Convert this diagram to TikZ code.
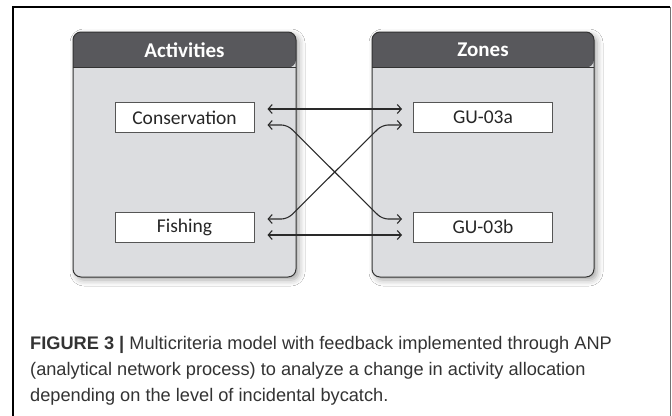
\documentclass[tikz,border=0pt]{standalone}
\usepackage{fontspec}
\setmainfont{Carlito}
\newfontfamily\capfont{Liberation Sans}
\usetikzlibrary{arrows.meta,calc,shadows.blur}

\definecolor{panelbody}{HTML}{DCDDE0}
\definecolor{panelhead}{HTML}{58585C}
\definecolor{panelline}{HTML}{333333}
\definecolor{boxline}{HTML}{555555}
\definecolor{linkcol}{HTML}{2A2A2A}
\definecolor{captext}{HTML}{333333}

\tikzset{
  panelbg/.style={fill=panelbody, rounded corners=8pt,
    blur shadow={shadow xshift=3pt, shadow yshift=-3pt, shadow blur radius=6pt, shadow opacity=35}},
  panelhd/.style={fill=panelhead},
  panelframe/.style={draw=panelline, line width=1pt, rounded corners=8pt},
  paneltitle/.style={font=\bfseries\fontsize{21}{25}\selectfont, text=white},
  itembox/.style={draw=boxline, fill=white, line width=1pt, minimum width=139pt,
    minimum height=30pt, inner sep=0pt, font=\fontsize{19.5}{23}\selectfont, text=black!85},
  link/.style={draw=linkcol, line width=1.1pt, {Straight Barb[length=4pt,width=9pt]}-{Straight Barb[length=4pt,width=9pt]}},
  capline/.style={anchor=base west, inner sep=0pt, font=\capfont\fontsize{18.2}{22}\selectfont, text=captext}
}

\begin{document}
\begin{tikzpicture}[x=1pt,y=-1pt]
  \useasboundingbox (0,0) rectangle (672,415);
  \fill[white] (0,0) rectangle (672,415);

  % outer frame, open at the bottom
  \draw[line width=1.2pt, black] (13,425) -- (13,7) -- (670,7);
  \draw[line width=1.6pt, black!55] (670.5,7) -- (670.5,425);

  % left panel: Activities
  \path[panelbg] (73,32) rectangle (296,277);
  \fill[panelhd, rounded corners=8pt] (73,67.5) -- (73,32) -- (296,32) -- (296,67.5) [sharp corners] -- cycle;
  \draw[panelline, line width=1pt] (73,67.5) -- (296,67.5);
  \draw[panelframe] (73,32) rectangle (296,277);
  \node[paneltitle] (acttitle) at (184.5,50) {Activities};

  % right panel: Zones
  \path[panelbg] (372,32) rectangle (594,277);
  \fill[panelhd, rounded corners=8pt] (372,67.5) -- (372,32) -- (594,32) -- (594,67.5) [sharp corners] -- cycle;
  \draw[panelline, line width=1pt] (372,67.5) -- (594,67.5);
  \draw[panelframe] (372,32) rectangle (594,277);
  \node[paneltitle] (zonetitle) at (483,50) {Zones};

  % elements
  \node[itembox] (cons) at (184.5,117.5) {Conservation};
  \node[itembox] (fish) at (184.5,227) {Fishing};
  \node[itembox] (gua) at (483,117.5) {GU-03a};
  \node[itembox] (gub) at (483,227) {GU-03b};

  % feedback links
  \draw[link] ($(cons.east)+(13,-8.5)$) -- ($(gua.west)+(-11,-8.5)$);
  \draw[link, rounded corners=6pt] ($(cons.east)+(13,7.5)$) -- ($(cons.east)+(33,7.5)$)
      -- ($(gub.west)+(-31,-8)$) -- ($(gub.west)+(-11,-8)$);
  \draw[link, rounded corners=6pt] ($(fish.east)+(13,-8)$) -- ($(fish.east)+(33,-8)$)
      -- ($(gua.west)+(-31,7.5)$) -- ($(gua.west)+(-11,7.5)$);
  \draw[link] ($(fish.east)+(13,8)$) -- ($(gub.west)+(-11,8)$);

  % caption
  \node[capline] (cap1) at (30,349) {\textbf{FIGURE 3 |} Multicriteria model with feedback implemented through ANP};
  \node[capline] (cap2) at (30,375.5) {(analytical network process) to analyze a change in activity allocation};
  \node[capline] (cap3) at (30,401) {depending on the level of incidental bycatch.};
\end{tikzpicture}
\end{document}
